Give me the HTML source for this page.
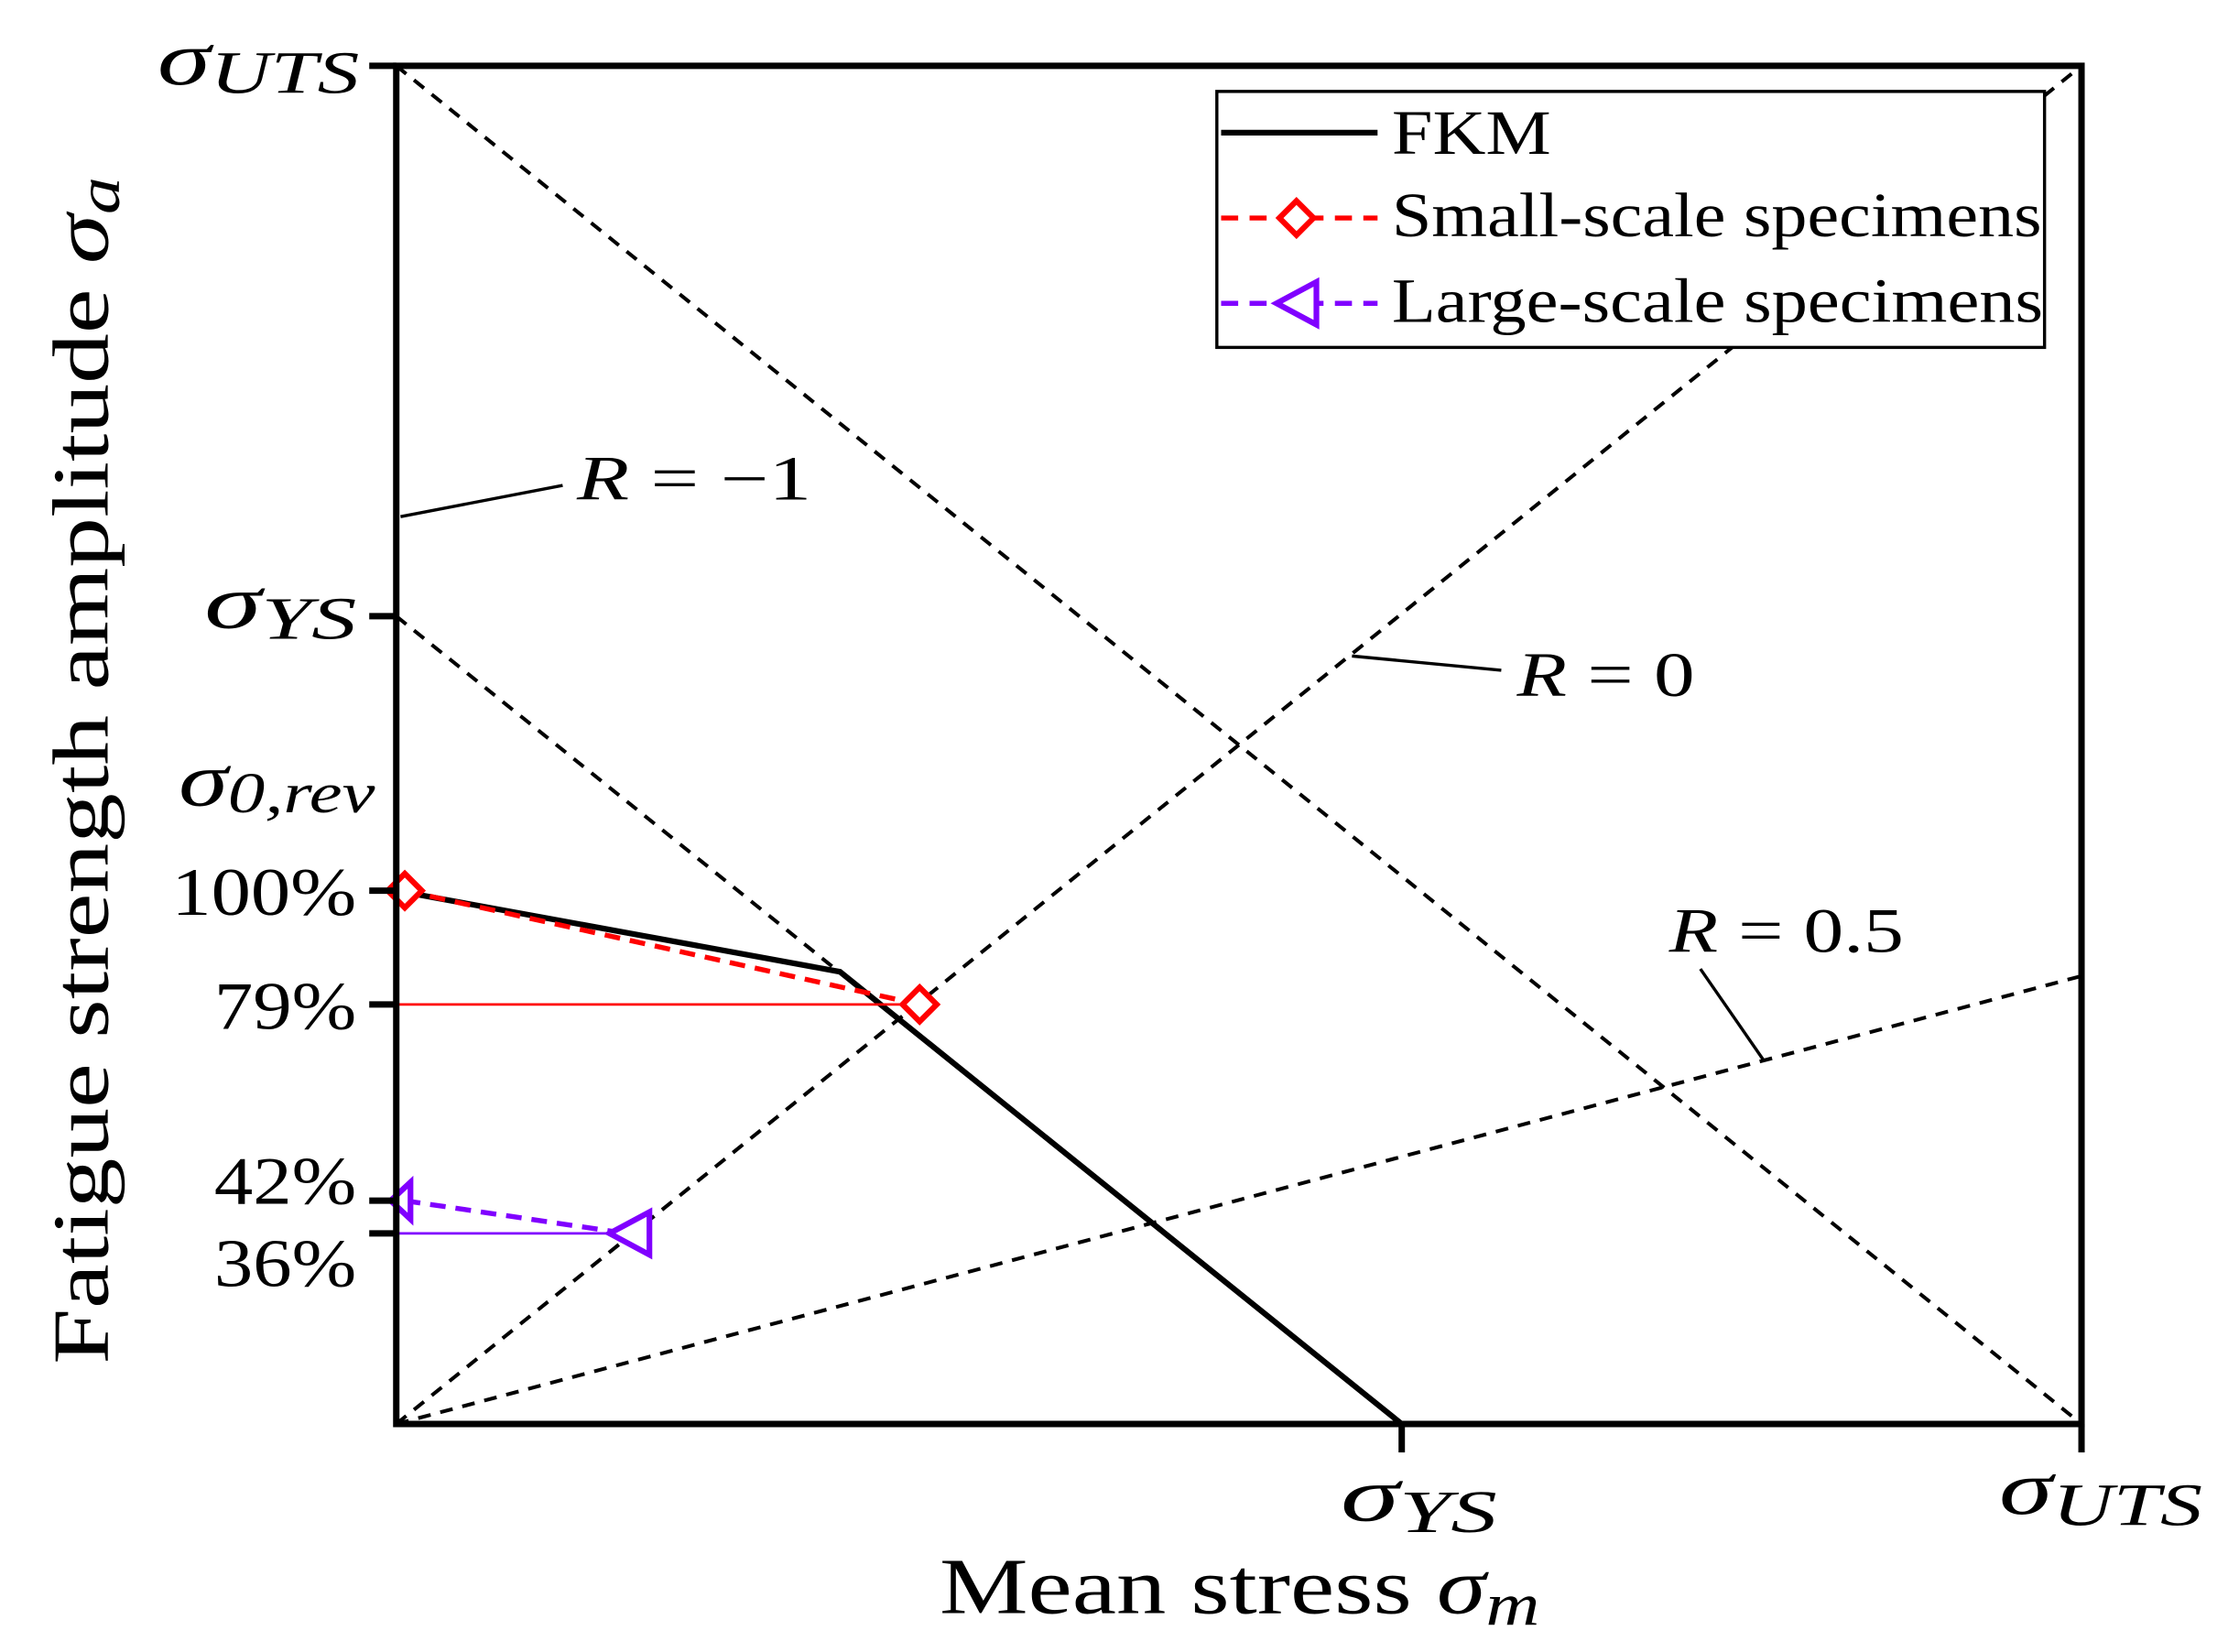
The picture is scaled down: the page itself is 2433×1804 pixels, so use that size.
<!DOCTYPE html>
<html><head><meta charset="utf-8"><style>
html,body{margin:0;padding:0;background:#fff;}
svg{display:block;}
text{font-family:"Liberation Serif",serif;fill:#000;}
.m{font-style:italic;}
</style></head><body>
<svg width="2433" height="1804" viewBox="0 0 2433 1804" xmlns="http://www.w3.org/2000/svg">
<g transform="translate(1,2) scale(1.553)">
<g stroke="#000" stroke-width="2.6" stroke-dasharray="9,7" fill="none">
<line x1="278" y1="45" x2="1463" y2="1000"/>
<line x1="278" y1="432" x2="985" y2="1000"/>
<line x1="278" y1="1000" x2="1463" y2="45"/>
<line x1="278" y1="1000" x2="1463" y2="685"/>
</g>
<g stroke="#000" stroke-width="2.2" fill="none">
<line x1="281" y1="362" x2="395" y2="340"/>
<line x1="950" y1="460" x2="1055" y2="470"/>
<line x1="1195" y1="680" x2="1240" y2="745"/>
</g>
<text x="405" y="350" font-size="44" class="m" textLength="165" lengthAdjust="spacingAndGlyphs">R <tspan font-style="normal">= −1</tspan></text>
<text x="1066" y="488" font-size="44" class="m" textLength="125" lengthAdjust="spacingAndGlyphs">R <tspan font-style="normal">= 0</tspan></text>
<text x="1173" y="668" font-size="44" class="m" textLength="165" lengthAdjust="spacingAndGlyphs">R <tspan font-style="normal">= 0.5</tspan></text>
<polyline points="278,625 590,682 985,1000" stroke="#000" stroke-width="4" fill="none"/>
<line x1="278" y1="705" x2="646" y2="705" stroke="#f00" stroke-width="1.8"/>
<line x1="284" y1="625" x2="646" y2="705" stroke="#f00" stroke-width="3.5" stroke-dasharray="11,7"/>
<g stroke="#f00" stroke-width="4" fill="#fff">
<polygon points="284,613 296,625 284,637 272,625"/>
<polygon points="646,693 658,705 646,717 634,705"/>
</g>
<line x1="278" y1="866" x2="440" y2="866" stroke="#8000ff" stroke-width="1.8"/>
<line x1="284" y1="843" x2="440" y2="866" stroke="#8000ff" stroke-width="3.5" stroke-dasharray="11,7"/>
<g stroke="#8000ff" stroke-width="4" fill="#fff">
<polygon points="274,843 288,830 288,856"/>
<polygon points="428,866 456,851 456,881"/>
</g>
<rect x="278" y="45" width="1185" height="955" fill="none" stroke="#000" stroke-width="4.5"/>
<g stroke="#000" stroke-width="4.5">
<line x1="259" y1="45" x2="278" y2="45"/>
<line x1="259" y1="432" x2="278" y2="432"/>
<line x1="259" y1="625" x2="278" y2="625"/>
<line x1="259" y1="705" x2="278" y2="705"/>
<line x1="259" y1="843" x2="278" y2="843"/>
<line x1="259" y1="866" x2="278" y2="866"/>
<line x1="985" y1="1000" x2="985" y2="1020"/>
<line x1="1463" y1="1000" x2="1463" y2="1020"/>
</g>
<text x="110" y="58" font-size="54" class="m" textLength="142" lengthAdjust="spacingAndGlyphs">σ<tspan font-size="42" dy="6">UTS</tspan></text>
<text x="143" y="440" font-size="54" class="m" textLength="107" lengthAdjust="spacingAndGlyphs">σ<tspan font-size="42" dy="8">YS</tspan></text>
<text x="125" y="565" font-size="54" class="m" textLength="138" lengthAdjust="spacingAndGlyphs">σ<tspan font-size="40" dy="5">0,rev</tspan></text>
<text x="120" y="642" font-size="48" textLength="130" lengthAdjust="spacingAndGlyphs">100%</text>
<text x="150" y="722" font-size="48" textLength="100" lengthAdjust="spacingAndGlyphs">79%</text>
<text x="150" y="845" font-size="48" textLength="100" lengthAdjust="spacingAndGlyphs">42%</text>
<text x="150" y="903" font-size="48" textLength="100" lengthAdjust="spacingAndGlyphs">36%</text>
<text x="942" y="1068" font-size="54" class="m" textLength="110" lengthAdjust="spacingAndGlyphs">σ<tspan font-size="42" dy="8">YS</tspan></text>
<text x="1405" y="1063" font-size="54" class="m" textLength="143" lengthAdjust="spacingAndGlyphs">σ<tspan font-size="42" dy="8">UTS</tspan></text>
<text x="660" y="1133" font-size="56" textLength="422" lengthAdjust="spacingAndGlyphs">Mean stress <tspan class="m">σ<tspan font-size="42" dy="8">m</tspan></tspan></text>
<text transform="translate(75,958) rotate(-90)" font-size="56" textLength="835" lengthAdjust="spacingAndGlyphs">Fatigue strength amplitude <tspan class="m">σ<tspan font-size="42" dy="8">a</tspan></tspan></text>
<rect x="855" y="63" width="582" height="180" fill="#fff" stroke="#000" stroke-width="2.2"/>
<line x1="858" y1="92" x2="968" y2="92" stroke="#000" stroke-width="4"/>
<text x="978" y="107" font-size="44" textLength="112" lengthAdjust="spacingAndGlyphs">FKM</text>
<line x1="858" y1="152" x2="968" y2="152" stroke="#f00" stroke-width="3.5" stroke-dasharray="12,8"/>
<polygon points="911,140 923,152 911,164 899,152" stroke="#f00" stroke-width="4" fill="#fff"/>
<text x="978" y="165" font-size="44" textLength="457" lengthAdjust="spacingAndGlyphs">Small-scale specimens</text>
<line x1="858" y1="212" x2="968" y2="212" stroke="#8000ff" stroke-width="3.5" stroke-dasharray="12,8"/>
<polygon points="897,212 925,197 925,227" stroke="#8000ff" stroke-width="4" fill="#fff"/>
<text x="978" y="225" font-size="44" textLength="458" lengthAdjust="spacingAndGlyphs">Large-scale specimens</text>
</g>
</svg>
</body></html>
